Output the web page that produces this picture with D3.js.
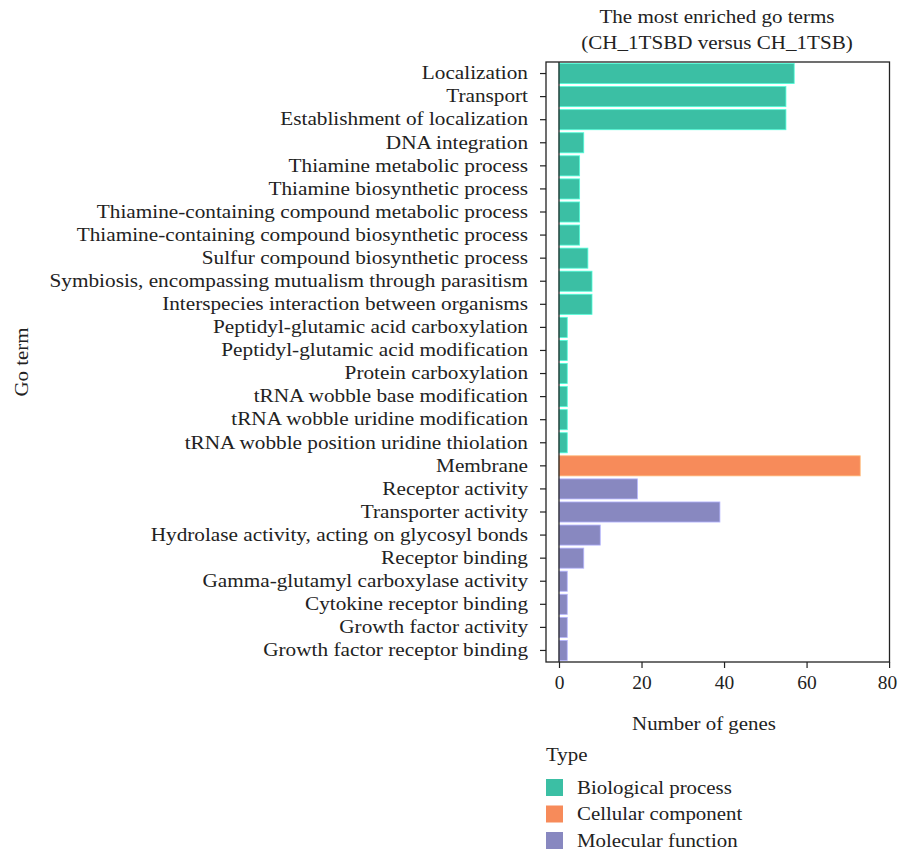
<!DOCTYPE html>
<html><head><meta charset="utf-8">
<script src="https://cdn.jsdelivr.net/npm/d3@7"></script>
<style>body{margin:0;background:#fff}svg{display:block}text{font-family:"Liberation Serif","DejaVu Serif",serif;fill:#222}</style>
</head><body>
<script>
const terms = ["Localization","Transport","Establishment of localization","DNA integration","Thiamine metabolic process","Thiamine biosynthetic process","Thiamine-containing compound metabolic process","Thiamine-containing compound biosynthetic process","Sulfur compound biosynthetic process","Symbiosis, encompassing mutualism through parasitism","Interspecies interaction between organisms","Peptidyl-glutamic acid carboxylation","Peptidyl-glutamic acid modification","Protein carboxylation","tRNA wobble base modification","tRNA wobble uridine modification","tRNA wobble position uridine thiolation","Membrane","Receptor activity","Transporter activity","Hydrolase activity, acting on glycosyl bonds","Receptor binding","Gamma-glutamyl carboxylase activity","Cytokine receptor binding","Growth factor activity","Growth factor receptor binding"];
const counts = [57,55,55,6,5,5,5,5,7,8,8,2,2,2,2,2,2,73,19,39,10,6,2,2,2,2];
const types = ["Biological process","Biological process","Biological process","Biological process","Biological process","Biological process","Biological process","Biological process","Biological process","Biological process","Biological process","Biological process","Biological process","Biological process","Biological process","Biological process","Biological process","Cellular component","Molecular function","Molecular function","Molecular function","Molecular function","Molecular function","Molecular function","Molecular function","Molecular function"];
const typeNames = ["Biological process","Cellular component","Molecular function"];
const typeColors = ["#3bbfa4","#f78b5a","#8888c0"];
const xTicks = [0,20,40,60,80];
const titleLines = ["The most enriched go terms","(CH_1TSBD versus CH_1TSB)"];

const W=898,H=852;
const svg=d3.select("body").append("svg").attr("width",W).attr("height",H);
const L=546,R=889.5,T=62,B=662;
const x=d3.scaleLinear().domain([-3.15,80.1]).range([L,R]);
const y=d3.scaleBand().domain(terms).range([T,B]).paddingInner(0.13).paddingOuter(0.065);
const color=d3.scaleOrdinal().domain(typeNames).range(typeColors);

function stretch(f){
  return function(sel){
    sel.each(function(){
      const w=this.getComputedTextLength();
      d3.select(this).attr("textLength",w*f).attr("lengthAdjust","spacingAndGlyphs");
    });
  };
}

// title
svg.selectAll("text.title").data(titleLines).enter().append("text").attr("class","title")
 .attr("x",717).attr("y",(d,i)=>23+i*26).attr("text-anchor","middle").style("font-size","18px").text(d=>d).call(stretch(1.17));

// bars
const data=terms.map((t,i)=>({t,v:counts[i],type:types[i]}));
svg.append("g").selectAll("rect").data(data).enter().append("rect")
 .attr("x",x(0)).attr("y",d=>y(d.t)).attr("width",d=>x(d.v)-x(0)).attr("height",y.bandwidth())
 .attr("fill",d=>color(d.type)).attr("stroke",d=>d3.color(color(d.type)).brighter(0.8)).attr("stroke-width",0.8);

// zero line
svg.append("line").attr("x1",x(0)).attr("x2",x(0)).attr("y1",T).attr("y2",B).attr("stroke","#222").attr("stroke-width",1.3);

// panel border
svg.append("rect").attr("x",L).attr("y",T).attr("width",R-L).attr("height",B-T).attr("fill","none").attr("stroke","#222").attr("stroke-width",1.3);

// y axis
const ya=svg.append("g").attr("transform",`translate(${L},0)`).call(d3.axisLeft(y).tickSize(6).tickPadding(12));
ya.select(".domain").remove();
ya.selectAll("line").attr("stroke","#222").attr("stroke-width",1.2);
ya.selectAll("text").style("font-size","18px").attr("fill","#222").style("font-family",'"Liberation Serif",serif').call(stretch(1.18));

// x axis
const xa=svg.append("g").attr("transform",`translate(0,${B})`).call(d3.axisBottom(x).tickValues(xTicks).tickSize(6).tickPadding(8));
xa.select(".domain").remove();
xa.selectAll("line").attr("stroke","#222").attr("stroke-width",1.2);
xa.selectAll("text").style("font-size","18px").attr("fill","#222").style("font-family",'"Liberation Serif",serif').call(stretch(1.08));
xa.selectAll(".tick").filter(d=>d===80).select("text").attr("dx","-2");

svg.append("text").attr("x",704).attr("y",730).attr("text-anchor","middle").style("font-size","18px").text("Number of genes").call(stretch(1.16));
svg.append("text").attr("transform","translate(28,362) rotate(-90)").attr("text-anchor","middle").style("font-size","18px").text("Go term").call(stretch(1.16));

// legend
svg.append("text").attr("x",546).attr("y",761).style("font-size","18px").text("Type").call(stretch(1.16));
const lg=svg.append("g").selectAll("g").data(typeNames).enter().append("g").attr("transform",(d,i)=>`translate(546,${779+i*26.5})`);
lg.append("rect").attr("width",17).attr("height",17).attr("fill",d=>color(d));
lg.append("text").attr("x",31).attr("y",14.5).style("font-size","18px").text(d=>d).call(stretch(1.16));
</script>
</body></html>
